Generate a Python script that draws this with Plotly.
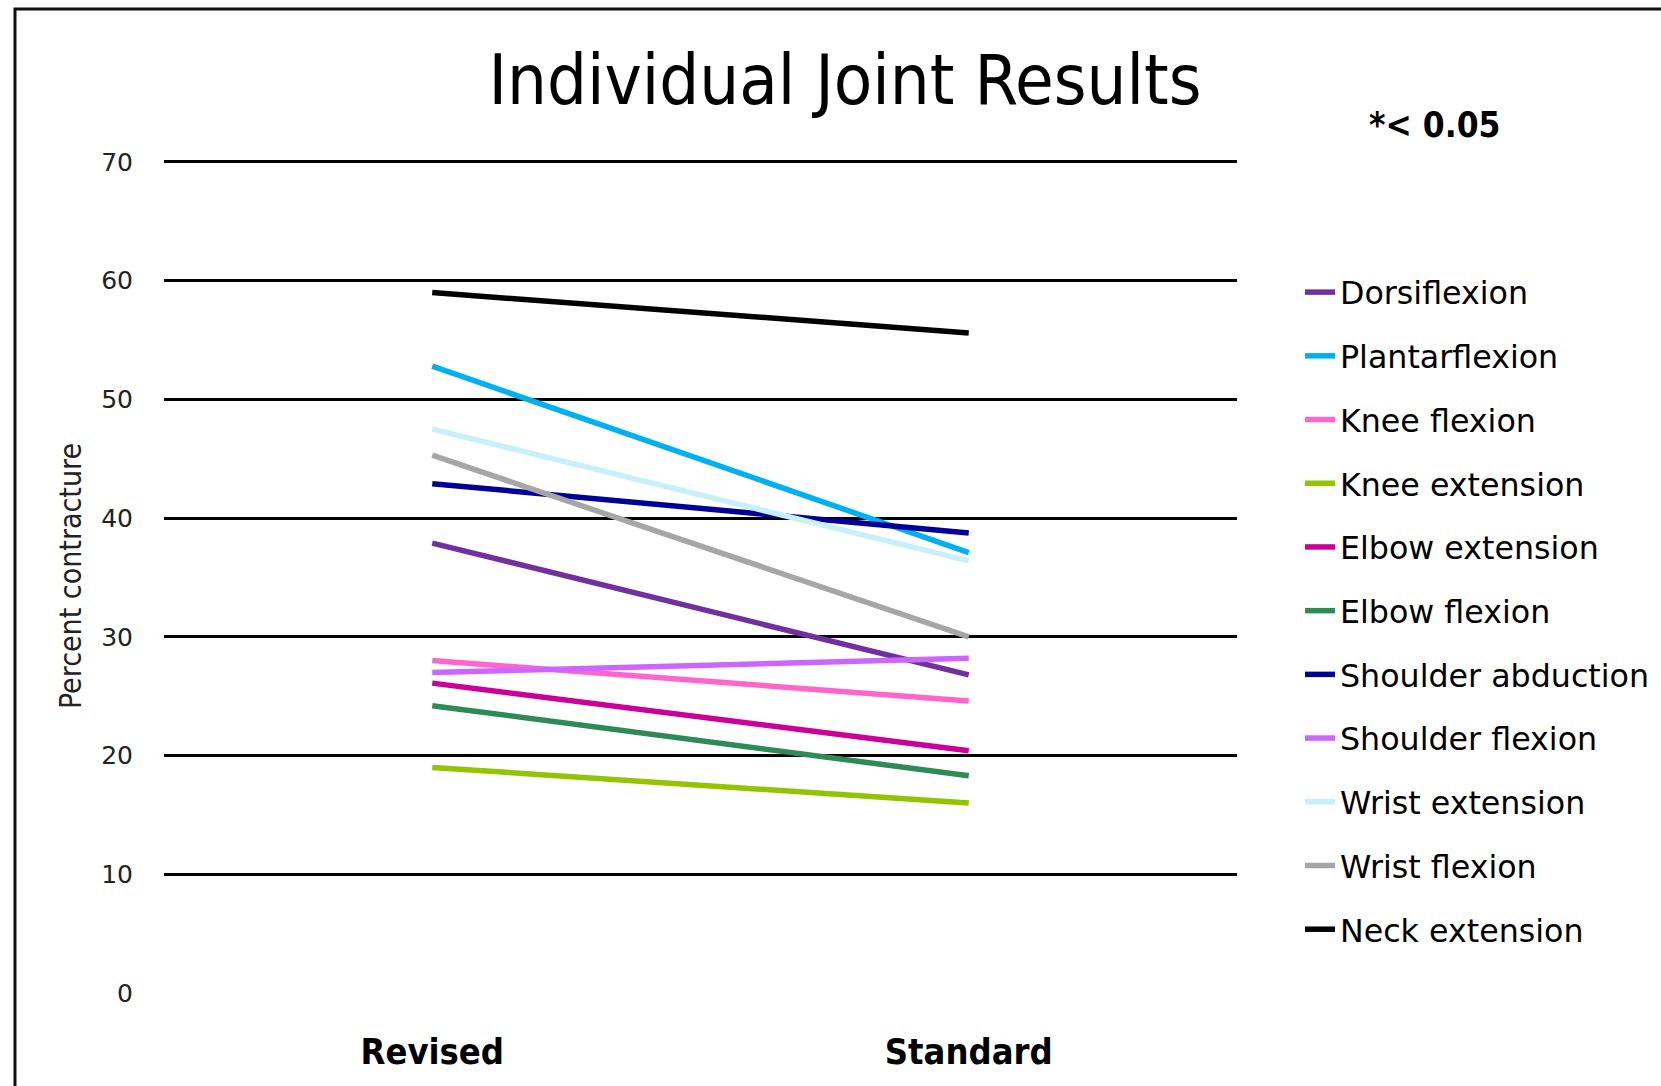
import plotly.graph_objects as go

# Contracture rates (%) by joint, revised vs standard protocol
groups = ["Revised", "Standard"]
joints = [
    "Dorsiflexion", "Plantarflexion", "Knee flexion", "Knee extension",
    "Elbow extension", "Elbow flexion", "Shoulder abduction",
    "Shoulder flexion", "Wrist extension", "Wrist flexion", "Neck extension",
]
revised = [37.9, 52.8, 28.0, 19.0, 26.1, 24.2, 42.9, 27.0, 47.5, 45.3, 59.0]
standard = [26.8, 37.1, 24.6, 16.0, 20.4, 18.3, 38.75, 28.2, 36.4, 30.0, 55.6]
colors = [
    "#7030A0", "#00B0F0", "#FF66CC", "#92C400", "#CC0099", "#2E8B57",
    "#000099", "#CC66FF", "#C8F0F8", "#A6A6A6", "#000000",
]
y_ticks = [0, 10, 20, 30, 40, 50, 60, 70]
grid_ticks = [10, 20, 30, 40, 50, 60, 70]
Y_MAX = 70.25  # small headroom so the 70 gridline is kept

W, H = 1661, 1086
ML, MR, MT, MB = 164, 424, 159, 93
PW, PH = W - ML - MR, H - MT - MB

NARROW = "Liberation Sans Narrow, DejaVu Sans Condensed, Open Sans, sans-serif"
WIDE = "DejaVu Sans, Verdana, sans-serif"

fig = go.Figure()
for name, r, s, c in zip(joints, revised, standard, colors):
    fig.add_trace(go.Scatter(
        x=groups, y=[r, s], mode="lines", name=name,
        line=dict(color=c, width=5.5), legendgroup=name,
    ))

# invisible trace carrying the gridline axis
fig.add_trace(go.Scatter(x=groups, y=[None, None], yaxis="y2",
                         showlegend=False, hoverinfo="skip"))

fig.update_layout(
    width=W, height=H,
    margin=dict(l=ML, r=MR, t=MT, b=MB, autoexpand=False),
    paper_bgcolor="white", plot_bgcolor="white",
    title=dict(
        text="Individual Joint Results",
        x=845 / W, xanchor="center", xref="container",
        y=1 - 79 / H, yanchor="middle", yref="container",
        font=dict(family=NARROW, size=70, color="black"),
    ),
    xaxis=dict(
        type="category", range=[-0.5, 1.5], showgrid=False, zeroline=False,
        showline=False, ticks="", ticklabelstandoff=34,
        tickfont=dict(family=NARROW, size=36, color="black", weight="bold"),
    ),
    yaxis=dict(
        range=[0, Y_MAX], tickvals=y_ticks, showgrid=False, zeroline=False,
        showline=False, ticks="", ticklabelstandoff=30,
        tickfont=dict(family=WIDE, size=25, color="#222222"),
        title=dict(text="Percent contracture", standoff=10,
                   font=dict(family=NARROW, size=30, color="#222222")),
    ),
    yaxis2=dict(
        range=[0, Y_MAX], overlaying="y", tickvals=grid_ticks,
        showgrid=True, gridcolor="black", gridwidth=2.5,
        zeroline=False, showticklabels=False, showline=False, ticks="",
    ),
    legend=dict(
        x=(1300 - ML) / PW, xanchor="left",
        y=1 - (296 - 31 - MT) / PH, yanchor="top",
        font=dict(family=WIDE, size=31.7, color="black"),
        tracegroupgap=19.5, bgcolor="rgba(0,0,0,0)", maxheight=1,
    ),
    annotations=[dict(
        text="<b>*< 0.05</b>", xref="paper", yref="paper",
        x=(1435 - ML) / PW, y=1 - (125 - MT) / PH,
        xanchor="center", yanchor="middle", showarrow=False,
        font=dict(family=NARROW, size=35, color="black"),
    )],
    shapes=[dict(
        type="rect", xref="paper", yref="paper",
        x0=(15 - ML) / PW, x1=(W + 20 - ML) / PW,
        y0=-(MB + 20) / PH, y1=1 + (MT - 9) / PH,
        line=dict(color="#111111", width=3), layer="below",
    )],
    showlegend=True,
)

fig.write_html("out.html")
